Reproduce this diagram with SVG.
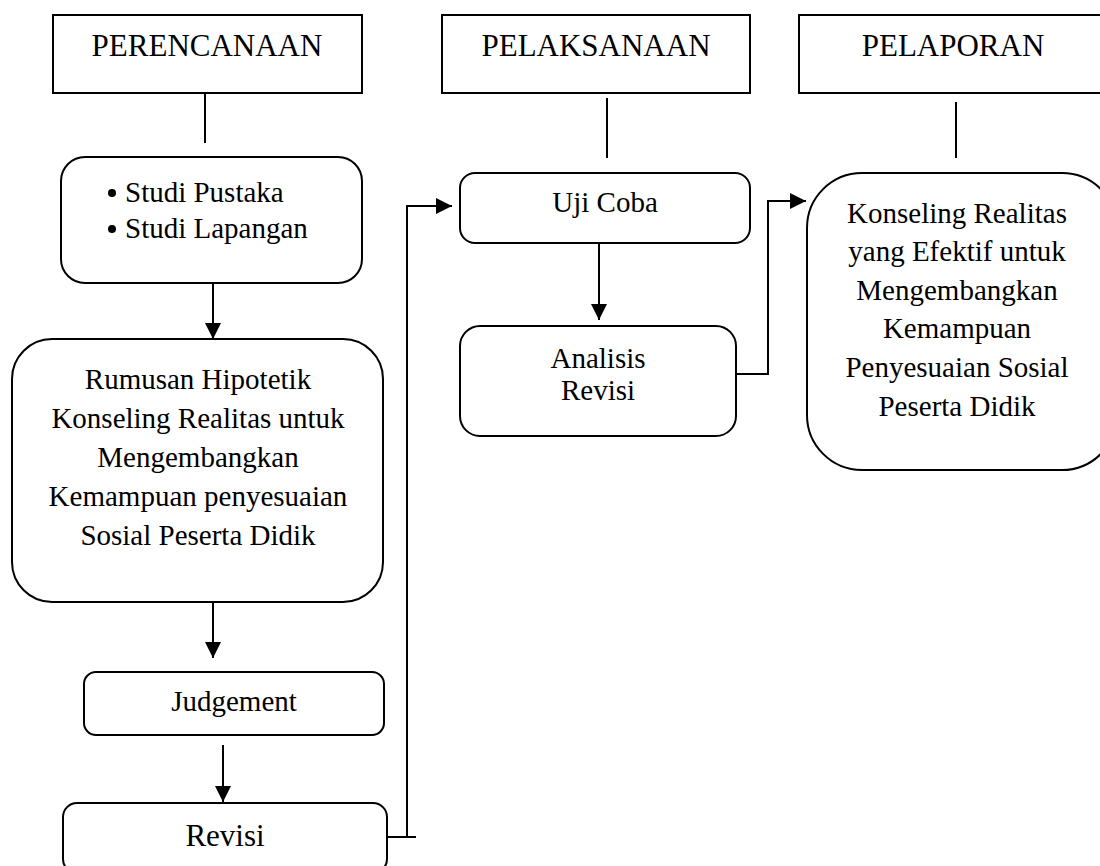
<svg xmlns="http://www.w3.org/2000/svg" width="1100" height="866" viewBox="0 0 1100 866">
<style>
.box{fill:#fff;stroke:#000;stroke-width:2}
.t{font-family:"Liberation Serif","Times New Roman",serif;font-size:29px;fill:#000;text-anchor:middle}
.h{font-size:31px}
.c{fill:none;stroke:#000;stroke-width:2}
</style>
<defs>
<marker id="ah" markerUnits="userSpaceOnUse" markerWidth="17" markerHeight="17" viewBox="0 0 17 17" refX="16" refY="8.5" orient="auto">
<path d="M0,0.5 L16,8.5 L0,16.5 Z" fill="#000"/>
</marker>
</defs>
<rect width="1100" height="866" fill="#fff"/>
<g id="perencanaan"><rect class="box" x="53" y="15" width="309" height="78"/><text class="t h" x="207" y="56">PERENCANAAN</text></g>
<g id="pelaksanaan"><rect class="box" x="442" y="15" width="308" height="78"/><text class="t h" x="596" y="56">PELAKSANAAN</text></g>
<g id="pelaporan"><rect class="box" x="799" y="15" width="310" height="78"/><text class="t h" x="953" y="56">PELAPORAN</text></g>
<g id="studi"><rect class="box" x="61" y="157" width="301" height="126" rx="24"/>
<circle cx="112" cy="193" r="4"/><text class="t" x="125" y="202" style="text-anchor:start">Studi Pustaka</text>
<circle cx="112" cy="229" r="4"/><text class="t" x="125" y="238" style="text-anchor:start">Studi Lapangan</text></g>
<g id="rumusan"><rect class="box" x="12" y="339" width="371" height="263" rx="40"/>
<text class="t" x="198" y="389">Rumusan Hipotetik</text>
<text class="t" x="198" y="428">Konseling Realitas untuk</text>
<text class="t" x="198" y="467">Mengembangkan</text>
<text class="t" x="198" y="506">Kemampuan penyesuaian</text>
<text class="t" x="198" y="545">Sosial Peserta Didik</text></g>
<g id="judgement"><rect class="box" x="84" y="672" width="300" height="63" rx="12"/><text class="t" x="234" y="711">Judgement</text></g>
<g id="revisi"><rect class="box" x="63" y="803" width="324" height="70" rx="14"/><text class="t" x="225" y="846" style="font-size:31px">Revisi</text></g>
<g id="ujicoba"><rect class="box" x="460" y="173" width="290" height="70" rx="15"/><text class="t" x="605" y="212">Uji Coba</text></g>
<g id="analisis"><rect class="box" x="460" y="326" width="276" height="110" rx="20"/><text class="t" x="598" y="368">Analisis</text><text class="t" x="598" y="400">Revisi</text></g>
<g id="konseling"><rect class="box" x="807" y="173" width="310" height="297" rx="55"/>
<text class="t" x="957" y="223">Konseling Realitas</text>
<text class="t" x="957" y="261">yang Efektif untuk</text>
<text class="t" x="957" y="300">Mengembangkan</text>
<text class="t" x="957" y="338">Kemampuan</text>
<text class="t" x="957" y="377">Penyesuaian Sosial</text>
<text class="t" x="957" y="416">Peserta Didik</text></g>
<g id="connectors">
<line class="c" x1="205" y1="93" x2="205" y2="143"/>
<line class="c" x1="607" y1="98" x2="607" y2="158"/>
<line class="c" x1="956" y1="102" x2="956" y2="158"/>
<line class="c" x1="213" y1="283" x2="213" y2="339" marker-end="url(#ah)"/>
<line class="c" x1="213" y1="602" x2="213" y2="658" marker-end="url(#ah)"/>
<line class="c" x1="223" y1="745" x2="223" y2="802" marker-end="url(#ah)"/>
<line class="c" x1="599" y1="243" x2="599" y2="320" marker-end="url(#ah)"/>
<path class="c" d="M387,837 H416"/>
<path class="c" d="M407,837 V206 H452" marker-end="url(#ah)"/>
<path class="c" d="M736,374 H768 V201 H806" marker-end="url(#ah)"/>
</g>
</svg>
